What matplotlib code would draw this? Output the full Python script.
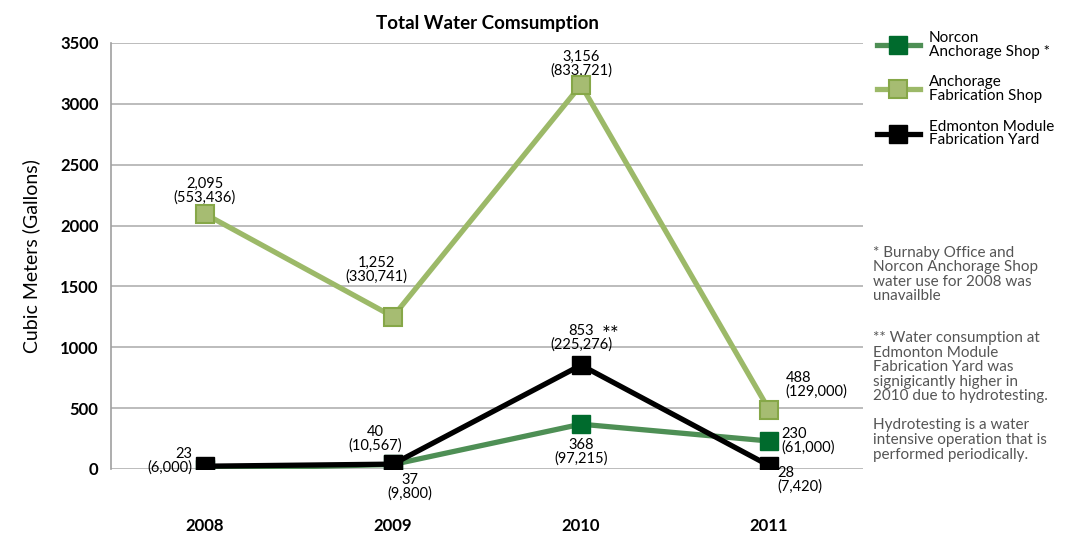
import matplotlib.pyplot as plt

plt.rcParams['font.family'] = ['Lato', 'DejaVu Sans']

years = ['2008', '2009', '2010', '2011']
norcon = [0, 37, 368, 230]
anchorage_fab = [2095, 1252, 3156, 488]
edmonton = [23, 40, 853, 28]

norcon_lbl = [None, '37\n(9,800)', '368\n(97,215)', '230\n(61,000)']
anchorage_lbl = ['2,095\n(553,436)', '1,252\n(330,741)', '3,156\n(833,721)', '488\n(129,000)']
edmonton_lbl = ['23\n(6,000)', '40\n(10,567)', '853\n(225,276)', '28\n(7,420)']

fig = plt.figure(figsize=(10.71, 5.4), dpi=100)
ax = fig.add_axes([0.1036, 0.1315, 0.7022, 0.7889])

x = [i + 0.5 for i in range(len(years))]

ax.plot(x, norcon, color='#4e8f55', lw=3.8, marker='s', ms=13,
        mfc='#006b2d', mec='#006b2d', label='Norcon\nAnchorage Shop *', zorder=3)
ax.plot(x, anchorage_fab, color='#9cb968', lw=3.8, marker='s', ms=13,
        mfc='#a6bc72', mec='#86a748', mew=1.5, label='Anchorage\nFabrication Shop', zorder=4)
ax.plot(x, edmonton, color='black', lw=3.8, marker='s', ms=13,
        mfc='black', mec='black', label='Edmonton Module\nFabrication Yard', zorder=5)

ax.set_xlim(0, 4)
ax.set_ylim(0, 3500)
ax.set_yticks(range(0, 3501, 500))
ax.set_xticks(x)
ax.set_xticklabels(years, fontweight='bold', fontsize=12)
ax.tick_params(axis='x', length=0, pad=35)
ax.tick_params(axis='y', length=0, pad=9, labelsize=12)
for t in ax.get_yticklabels():
    t.set_fontweight('bold')
ax.grid(axis='y', color='#b0b0b0', lw=1.2)
ax.set_axisbelow(True)
for s in ['top', 'right', 'bottom']:
    ax.spines[s].set_visible(False)
ax.spines['left'].set_color('#a0a0a0')
ax.spines['left'].set_linewidth(1.2)

ax.set_title('Total Water Comsumption', fontweight='bold', fontsize=13.5, pad=10)
ax.set_ylabel('Cubic Meters (Gallons)', fontsize=14, labelpad=14)

fs = 10.5
lsp = 0.95


def put_labels(vals, labels, offsets):
    for i, (v, l) in enumerate(zip(vals, labels)):
        if l is None:
            continue
        dx, dy, ha, va = offsets[i]
        ax.annotate(l, (x[i], v), xytext=(dx, dy), textcoords='offset points',
                    ha=ha, va=va, fontsize=fs, linespacing=lsp)


# Anchorage Fabrication Shop
put_labels(anchorage_fab, anchorage_lbl,
           [(0, 7, 'center', 'bottom'), (-12, 24, 'center', 'bottom'),
            (0, 5, 'center', 'bottom'), (12, 8, 'left', 'bottom')])
# Edmonton
put_labels(edmonton, edmonton_lbl,
           [(-9, 4, 'right', 'center'), (-13, 8, 'center', 'bottom'),
            (0, 10, 'center', 'bottom'), (6, -10, 'left', 'center')])
ax.annotate('**', (x[2], edmonton[2]), xytext=(15, 22), textcoords='offset points',
            ha='left', va='center', fontsize=15)
# Norcon
put_labels(norcon, norcon_lbl,
           [None, (12, -6, 'center', 'top'), (0, -10, 'center', 'top'),
            (9, 0, 'left', 'center')])

leg = ax.legend(loc='upper left', bbox_to_anchor=(1.0, 1.06), frameon=False,
                fontsize=11, handlelength=2.8, labelspacing=1.1, handletextpad=0.6)
for t in leg.get_texts():
    t.set_linespacing(0.95)

note_color = '#555555'
fig.text(0.815, 0.545, '* Burnaby Office and\nNorcon Anchorage Shop\nwater use for 2008 was\nunavailble',
         fontsize=11, color=note_color, va='top', linespacing=1.05)
fig.text(0.815, 0.387, '** Water consumption at\nEdmonton Module\nFabrication Yard was\nsignigicantly higher in\n2010 due to hydrotesting.',
         fontsize=11, color=note_color, va='top', linespacing=1.05)
fig.text(0.815, 0.225, 'Hydrotesting is a water\nintensive operation that is\nperformed periodically.',
         fontsize=11, color=note_color, va='top', linespacing=1.05)

fig.savefig('out.png', dpi=100)
